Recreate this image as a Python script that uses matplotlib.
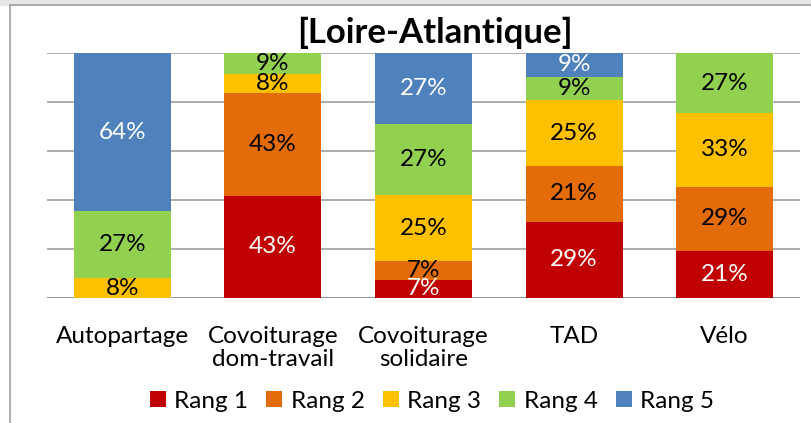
import matplotlib
matplotlib.use('Agg')
import matplotlib.pyplot as plt
import numpy as np
from matplotlib.patches import Rectangle
from matplotlib.lines import Line2D

plt.rcParams['font.family'] = ['Lato', 'DejaVu Sans']

# ============== data ==============
categories = ['Autopartage', 'Covoiturage\ndom-travail', 'Covoiturage\nsolidaire', 'TAD', 'Vélo']
series_names = ['Rang 1', 'Rang 2', 'Rang 3', 'Rang 4', 'Rang 5']
rang1 = [0, 43, 7, 29, 21]
rang2 = [0, 43, 7, 21, 29]
rang3 = [8, 8, 25, 25, 33]
rang4 = [27, 9, 27, 9, 27]
rang5 = [64, 0, 27, 9, 0]
colors = ['#C00000', '#E36C09', '#FFC000', '#92D050', '#4F81BD']
label_colors = ['white', 'black', 'black', 'black', 'white']

W, H = 812, 423
fig = plt.figure(figsize=(W / 100, H / 100), dpi=100)

# frame like the spreadsheet export
fig.patches.append(Rectangle((0, 1 - 5 / H), 1, 5 / H, transform=fig.transFigure,
                             color='#e6e6e6', zorder=0))
fig.lines.append(Line2D([10 / W, 1], [1 - 5 / H, 1 - 5 / H], transform=fig.transFigure,
                        color='#a0a0a0', lw=1.2))
fig.lines.append(Line2D([10 / W, 10 / W], [0, 1 - 5 / H], transform=fig.transFigure,
                        color='#a0a0a0', lw=1.2))

ax = fig.add_axes([47 / W, (H - 298) / H, 753 / W, 245 / H])

data = np.array([rang1, rang2, rang3, rang4, rang5], dtype=float)
totals = data.sum(axis=0)
pct = data / totals * 100  # 100% stacked
x = np.arange(len(categories))

for y in range(0, 101, 20):
    ax.axhline(y, color='#a6a6a6' if y else '#8c8c8c', lw=1.3, zorder=0)

fs = 17.5
bottom = np.zeros(len(categories))
for i, name in enumerate(series_names):
    ax.bar(x, pct[i], 0.645, bottom=bottom, color=colors[i], label=name, zorder=2)
    for j in range(len(categories)):
        if data[i, j] > 0:
            ax.text(x[j], bottom[j] + pct[i, j] / 2, f'{int(data[i, j])}%',
                    ha='center', va='center', fontsize=fs, color=label_colors[i], zorder=3)
    bottom += pct[i]

ax.set_xlim(-0.5, len(categories) - 0.5)
ax.set_ylim(0, 100)
ax.set_yticks([])
ax.set_xticks(x)
ax.set_xticklabels(categories, fontsize=fs, linespacing=1.12, va='top')
ax.tick_params(axis='x', length=0, pad=20)
for s in ax.spines.values():
    s.set_visible(False)

fig.text(435 / W, 1 - 33 / H, '[Loire-Atlantique]', ha='center', va='center',
         fontsize=25, fontweight='bold')

fig.legend(loc='center', bbox_to_anchor=(432 / W, 1 - 401 / H), ncol=5, frameon=False,
           fontsize=fs, handlelength=0.65, handleheight=0.65, handletextpad=0.35,
           columnspacing=0.75)

plt.savefig('out.png', dpi=100)
